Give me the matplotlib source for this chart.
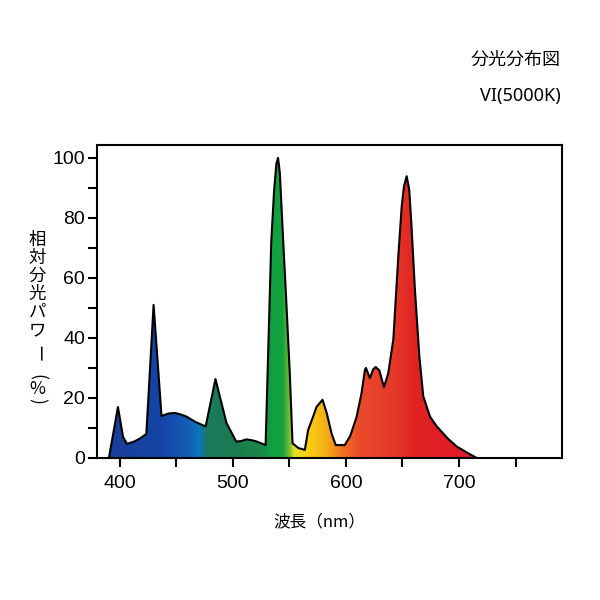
import numpy as np
import matplotlib
matplotlib.use("Agg")
import matplotlib.pyplot as plt
from matplotlib.colors import LinearSegmentedColormap
from matplotlib.patches import Polygon
from matplotlib.ticker import MultipleLocator

# spectrum (nm, relative power %)
wavelength = [390.5, 398.5, 403, 406.5, 413, 418, 423.6, 430, 437, 443, 448.7,
              454, 459, 467, 476, 484.7, 494.4, 503, 507, 512, 517, 521, 529,
              534, 536.5, 538.5, 540, 541.6, 544.5, 547.5, 550.4, 552.8, 558,
              563.7, 566.6, 571, 574, 579.3, 583, 587.3, 591, 599, 604, 609.5,
              613.8, 616.8, 617.7, 621.2, 624, 626.3, 629.5, 633.6, 637.4,
              641.9, 646.3, 649.3, 651.3, 653.7, 656, 658, 661, 664.9, 668.4,
              674.3, 680.3, 690, 698, 707, 715.7]
power = [0, 17, 7, 4.7, 5.5, 6.5, 8, 51, 14, 14.8, 15,
         14.5, 13.8, 12, 10.5, 26.3, 11.7, 5.5, 5.6, 6.2, 5.9, 5.5, 4.3,
         72, 89, 98, 100, 95, 72.7, 50.6, 28, 4.9, 3.3,
         2.7, 9.3, 13.8, 17, 19.4, 15, 8.2, 4.3, 4.3, 7.5, 13.8,
         21.6, 29.4, 30, 26.6, 29.5, 30.3, 29.2, 23.6, 28.2,
         39.5, 67.2, 83.8, 90.5, 93.9, 89.3, 77, 56, 33.8, 20.5,
         13.8, 10.5, 6.5, 3.8, 1.8, 0]

# fill colour along the wavelength axis
color_nm = [380, 440, 462, 470, 476, 500, 526, 534, 543, 549, 554, 566,
            582, 596, 612, 640, 662, 720, 800]
color_hex = ["#1b3c94", "#1446a8", "#1262b8", "#0c76c0", "#1a7b5c", "#1a7a50",
             "#1a8a48", "#10a040", "#12a23e", "#6cb832", "#e4e226", "#f8d012",
             "#f5ae14", "#f07222", "#ea4a2a", "#e63a2a", "#e02222", "#e0182e",
             "#e0182e"]

xmin, xmax = 380, 791
ymin, ymax = 0, 104.3

plt.rcParams["font.family"] = ["Liberation Sans", "Noto Sans CJK JP"]
jp = ["Noto Sans CJK JP", "DejaVu Sans"]

fig = plt.figure(figsize=(6, 6), dpi=100)
ax = fig.add_axes([0.1617, 0.2367, 0.775, 0.5217])

stops = [(n - color_nm[0]) / (color_nm[-1] - color_nm[0]) for n in color_nm]
cmap = LinearSegmentedColormap.from_list("spec", list(zip(stops, color_hex)))
grad = np.linspace(color_nm[0], color_nm[-1], 800)[None, :]
im = ax.imshow(grad, cmap=cmap, vmin=color_nm[0], vmax=color_nm[-1],
               extent=[color_nm[0], color_nm[-1], ymin, ymax],
               aspect="auto", origin="lower", zorder=1)
poly = Polygon(np.column_stack([wavelength, power]), closed=True,
               facecolor="none", edgecolor="none")
ax.add_patch(poly)
im.set_clip_path(poly)
ax.plot(wavelength, power, color="black", lw=1.5, zorder=3,
        solid_joinstyle="round")

ax.set_xlim(xmin, xmax)
ax.set_ylim(ymin, ymax)
ax.xaxis.set_major_locator(MultipleLocator(100))
ax.xaxis.set_minor_locator(MultipleLocator(50))
ax.yaxis.set_major_locator(MultipleLocator(20))
ax.yaxis.set_minor_locator(MultipleLocator(10))
ax.tick_params(which="both", direction="out", width=1.5, length=6.5,
               labelsize=14)
ax.tick_params(axis="x", pad=6)
ax.tick_params(axis="y", pad=2)
for s in ax.spines.values():
    s.set_linewidth(1.5)

fig.text(0.533, 0.13, "波長（nm）", family=jp, fontsize=12,
         ha="center", va="center")

# vertical japanese label, one glyph per line
ylab = ["相", "対", "分", "光", "パ", "ワ", "ー", "(", "%", ")"]
ylab_y = [240, 258, 276, 294, 312, 330, 354, 377, 389, 401]
rot = [0, 0, 0, 0, 0, 0, -90, -90, 0, -90]
for ch, py, r in zip(ylab, ylab_y, rot):
    fig.text(0.062, 1 - py / 600, ch, family=jp, fontsize=12.5,
             rotation=r, ha="center", va="center")

fig.text(0.935, 0.9, "分光分布図", family=jp, fontsize=13, ha="right",
         va="center")
fig.text(0.935, 0.84, "VI(5000K)", family=["Noto Sans"], fontsize=13,
         ha="right", va="center")

fig.savefig("out.png", dpi=100)
